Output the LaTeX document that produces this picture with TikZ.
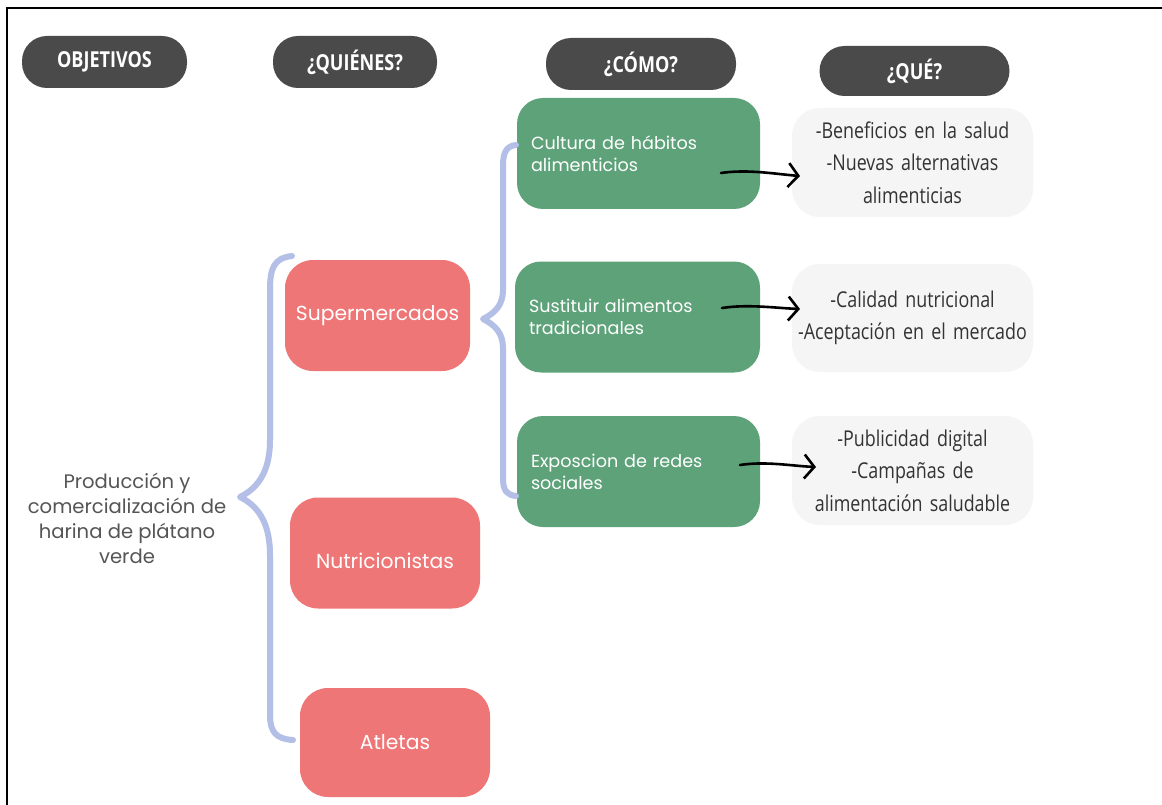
\documentclass[tikz,border=0pt]{standalone}
\usepackage{fontspec}
\usetikzlibrary{arrows.meta}
\newfontfamily\rnd{Poppins}
\newfontfamily\cond{Open Sans}[FakeStretch=0.82]
\definecolor{hdr}{HTML}{4A4A4A}
\definecolor{grn}{HTML}{5EA27A}
\definecolor{rd}{HTML}{EF7676}
\definecolor{gbox}{HTML}{F5F5F5}
\definecolor{brc}{HTML}{B3BFE6}
\definecolor{objtxt}{HTML}{555555}
\definecolor{qtxt}{HTML}{333333}
\begin{document}
\begin{tikzpicture}[x=1pt,y=-1pt,
  pill/.style={fill=hdr, rounded corners=25pt, text=white, inner sep=0pt,
    font=\cond\bfseries\fontsize{22}{24}\selectfont},
  greenbox/.style={fill=grn, rounded corners=26pt, text=white, inner xsep=14pt, inner ysep=0pt,
    minimum height=111pt, text width=215pt, align=left,
    font=\rnd\fontsize{17.6}{22}\selectfont},
  redbox/.style={fill=rd, rounded corners=28pt, text=white, inner sep=0pt,
    minimum height=111pt, font=\rnd\fontsize{20.3}{22}\selectfont},
  graybox/.style={fill=gbox, rounded corners=28pt, text=qtxt, inner sep=0pt,
    minimum width=241pt, text width=241pt, align=center,
    font=\cond\fontsize{21.8}{32.5}\selectfont},
  brace/.style={draw=brc, line width=6pt, line cap=round, line join=round},
  arr/.style={draw=black, line width=2.6pt, line cap=round,
    -{Straight Barb[length=10pt,width=24pt,line width=2.6pt]}}
]
\useasboundingbox (0,0) rectangle (1162,805);
\fill[white] (0,0) rectangle (1162,805);
\draw[line width=2.5pt] (7,806) -- (7,8) -- (1163,8);

% headers
\node[pill, minimum width=165pt, minimum height=52pt] (hobj) at (104.5,62) {OBJETIVOS};
\node[pill, minimum width=164pt, minimum height=52pt] (hqui) at (355,62) {¿QUIÉNES?};
\node[pill, minimum width=190pt, minimum height=52pt] (hcom) at (641,64) {¿CÓMO?};
\node[pill, minimum width=190pt, minimum height=50pt] (hque) at (914.5,71) {¿QUÉ?};

% objective
\node[align=center, text=objtxt, font=\rnd\fontsize{19.6}{25}\selectfont] (obj) at (127,518)
  {Producción y\\comercialización de\\harina de plátano\\verde};

% who
\node[redbox, minimum width=185pt] (sup) at (377.5,315.5) {Supermercados};
\node[redbox, minimum width=190pt] (nut) at (385,553) {\smash{\raisebox{-15pt}{Nutricionistas}}};
\node[redbox, minimum width=190pt, minimum height=109pt] (atl) at (395,742.5) {Atletas};

% how
\node[greenbox] (c1) at (638.5,153.5) {Cultura de hábitos\\alimenticios};
\node[greenbox, text width=217pt] (c2) at (637.5,317) {Sustituir alimentos\\tradicionales};
\node[greenbox] (c3) at (638.5,471.5) {Exposcion de redes\\sociales};

% what
\node[graybox, minimum height=109pt] (q1) at (912.5,162.5) {-Beneficios en la salud\\-Nuevas alternativas\\alimenticias};
\node[graybox, minimum height=108pt] (q2) at (912.5,318) {-Calidad nutricional\\-Aceptación en el mercado};
\node[graybox, minimum height=109pt] (q3) at (912.5,470.5) {-Publicidad digital\\-Campañas de\\alimentación saludable};

% braces
\coordinate (bt) at (292,256);
\coordinate (bp) at (240,497);
\coordinate (bb) at (293,740);
\draw[brace] (bt) .. controls (274,258) and (270,268) .. (270,290) -- (270,440)
  .. controls (270,474) and (256,489) .. (bp)
  .. controls (256,505) and (270,520) .. (270,555) -- (270,715)
  .. controls (270,732) and (276,739) .. (bb);
\coordinate (st) at (516,145);
\coordinate (sp) at (483,319);
\coordinate (sb) at (516,496);
\draw[brace] (st) .. controls (506,146) and (503,153) .. (503,166) -- (503,290)
  .. controls (503,305) and (495,313) .. (sp)
  .. controls (495,325) and (503,333) .. (503,348) -- (503,478)
  .. controls (503,491) and (507,495) .. (sb);

% arrows
\coordinate (a1s) at (721,173);
\coordinate (a1e) at (800,176);
\coordinate (a2s) at (722,308);
\coordinate (a2e) at (800,309);
\coordinate (a3s) at (740,465);
\coordinate (a3e) at (816,467);
\draw[arr] (a1s) .. controls (748,169) and (775,174) .. (a1e);
\draw[arr] (a2s) .. controls (748,304) and (775,308) .. (a2e);
\draw[arr] (a3s) .. controls (766,461) and (792,466) .. (a3e);
\end{tikzpicture}
\end{document}
